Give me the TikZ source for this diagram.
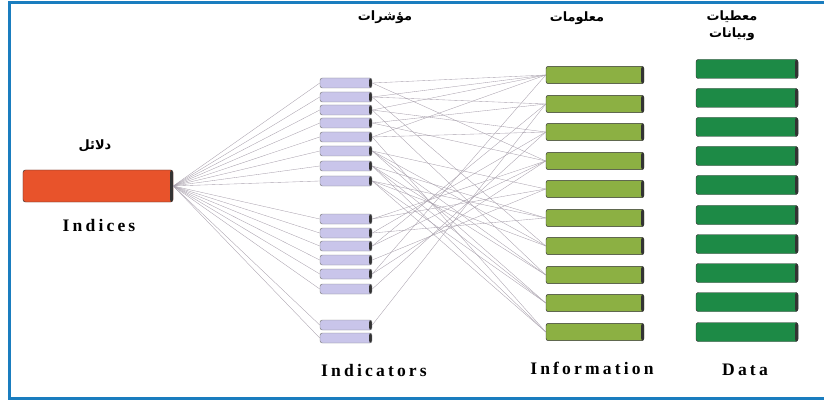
\documentclass[tikz,border=0pt]{standalone}
\usepackage{fontspec}
\setmainfont{Liberation Serif}
\newfontfamily\lblfont[LetterSpace=18]{Liberation Serif}
\newfontfamily\arabicfont[Script=Arabic]{DejaVu Sans}
\TeXXeTstate=1
\definecolor{frameblue}{HTML}{1A7DBF}
\definecolor{idxred}{HTML}{E8532B}
\definecolor{indlav}{HTML}{C9C5EA}
\definecolor{infgreen}{HTML}{8CB043}
\definecolor{datgreen}{HTML}{1D8A46}
\definecolor{wiregray}{HTML}{A8A0AC}

\begin{document}
\begin{tikzpicture}[x=0.03cm,y=-0.03cm,
  lbl/.style={font=\lblfont\bfseries\fontsize{15}{17}\selectfont},
  ar/.style={font=\arabicfont\bfseries\fontsize{11}{13}\selectfont},
  wire/.style={draw=wiregray, line width=0.3pt}]
\tikzstyle{bar}=[rectangle, rounded corners=2pt, draw=black!80, inner sep=0pt,
  path picture={\fill[black!80] ([xshift=-2.5pt]path picture bounding box.north east) rectangle (path picture bounding box.south east);}]
\tikzstyle{idx}=[bar, fill=idxred, minimum width=4.5cm, minimum height=0.96cm]
\tikzstyle{ind}=[bar, fill=indlav, draw=black!50, minimum width=1.56cm, minimum height=0.3cm]
\tikzstyle{inf}=[bar, fill=infgreen, minimum width=2.94cm, minimum height=0.52cm]
\tikzstyle{dat}=[bar, fill=datgreen, minimum width=3.06cm, minimum height=0.57cm]
\useasboundingbox (0,0) rectangle (824,400);
\draw[line width=0.09cm, frameblue] (824,3) -- (9,3) -- (9,398) -- (824,398);
\node[idx] (x) at (98,186){};
\foreach \i/\y in {1/83,2/97,3/110,4/123,5/137,6/151,7/166,8/181,9/219,10/233,11/246,12/260,13/274,14/289,15/325,16/338}{\node[ind] (i\i) at (346,\y){};}
\foreach \j/\y in {1/75,2/104,3/132,4/161,5/189,6/218,7/246,8/275,9/303,10/332}{\node[inf] (f\j) at (595,\y){};}
\foreach \j/\y in {1/69,2/98,3/127,4/156,5/185,6/215,7/244,8/273,9/302,10/332}{\node[dat] (d\j) at (747,\y){};}
% fan from the index to every indicator
\foreach \i in {1,...,16}{\draw[wire] (x.east) -- (i\i.west);}
% indicators to information
\foreach \i/\j in {1/1,1/4,2/2,2/1,3/1,3/3,4/2,4/4,5/3,5/1,6/5,6/7,6/8,6/9,7/6,7/8,7/9,7/10,8/6,8/7,8/9,8/10,9/4,9/5,10/3,10/6,11/2,11/4,12/5,13/1,13/4,14/3,15/2,3/8,5/10,2/7}{\draw[wire] (i\i.east) -- (f\j.west);}
\node[ar] at (95,146){\beginR دلائل\endR};
\node[lbl] at (99,225){Indices};
\node[ar] at (385,17){\beginR مؤشرات\endR};
\node[lbl] at (374,370){Indicators};
\node[ar] at (577,18){\beginR معلومات\endR};
\node[lbl] at (592,368){Information};
\node[ar] at (732,17){\beginR معطيات\endR};
\node[ar] at (732,34){\beginR وبيانات\endR};
\node[lbl] at (745,370){Data};
\end{tikzpicture}
\end{document}
